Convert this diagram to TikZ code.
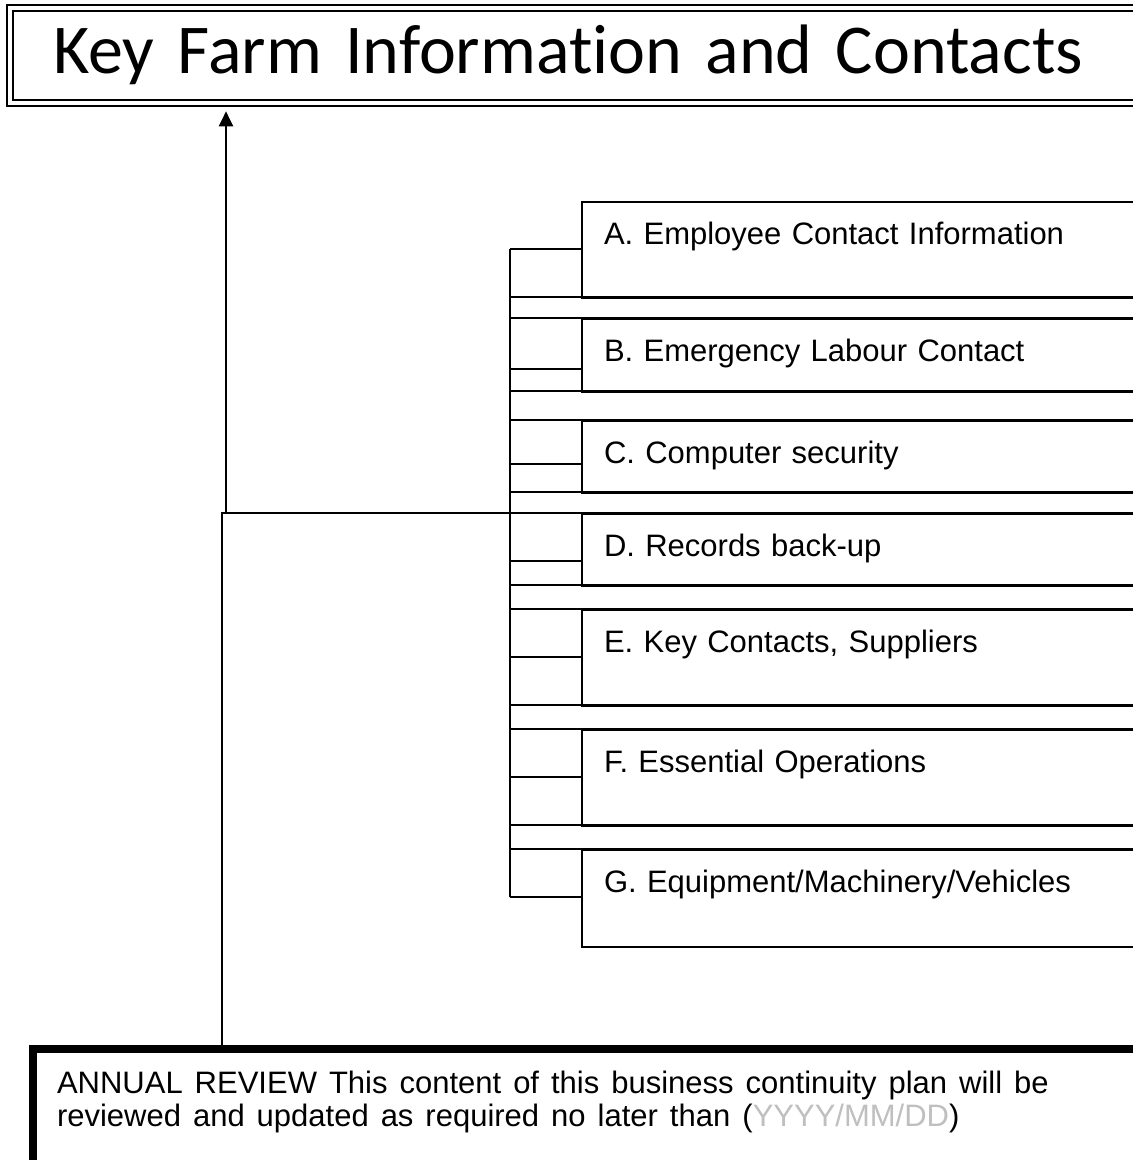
\documentclass[tikz,border=0pt]{standalone}
\usepackage{fontspec}
\usetikzlibrary{arrows.meta}
\newfontfamily\titlefont[Ligatures=NoCommon]{Carlito}
\newfontfamily\itemfont{Liberation Sans}
\definecolor{dategray}{RGB}{191,191,191}

\begin{document}
\begin{tikzpicture}[x=1pt,y=-1pt,line width=2pt,
    titlebox/.style={draw,double,double distance=3.7pt,line width=2.3pt,
      anchor=north west,inner ysep=0pt,inner xsep=43pt,text width=1150pt,
      align=left,text height=65pt,text depth=30pt,
      font=\titlefont\fontsize{70}{80}\selectfont},
    itembox/.style={draw,anchor=north west,inner ysep=0pt,inner xsep=22pt,
      text width=600pt,align=left,text height=42.5pt,
      font=\itemfont\fontsize{31}{37}\selectfont},
    reviewbox/.style={draw,line width=8pt,anchor=north west,inner ysep=0pt,
      inner xsep=24pt,text width=1057pt,align=left,text height=44pt,
      text depth=156pt,font=\itemfont\fontsize{31}{33}\selectfont}]
    \useasboundingbox (0,0) rectangle (1133,1160);
    \clip (0,0) rectangle (1133,1160); % page edge cuts the boxes on the right

    \node[titlebox] (title) at (9,7) {Key Farm Information and Contacts};

    \coordinate (brtop) at (510,248.7);
    \coordinate (brbot) at (510,897.3);
    \coordinate (join)  at (510,512.7);
    \coordinate (fork)  at (222,512.7);
    \coordinate (up)    at (226,512.7);

    % strips between the items
    \foreach \t/\b in {296.7/318,391/420,492.3/512.7,585/609,705/729,825/849.3}{
      \draw (510,\t) rectangle (1200,\b);
    }
    \draw (brtop) -- (brbot);
    \foreach \n/\t/\b/\e/\txt in {%
        itemA/200.7/296.7/248.7/{A. Employee Contact Information},
        itemB/318/391/369/{B. Emergency Labour Contact},
        itemC/420/492.3/464.3/{C. Computer security},
        itemD/512.7/585/561/{D. Records back-up},
        itemE/609/705/657/{E. Key Contacts, Suppliers},
        itemF/729/825/776.7/{F. Essential Operations},
        itemG/849.3/945.7/897.3/{G. Equipment/Machinery/Vehicles}}{%
      \pgfmathsetmacro{\lowpart}{\b-\t-42.5}
      \node[itembox,text depth=\lowpart pt] (\n) at (581,\t) {\txt};
      \draw (brtop |- 0,\e) -- (\n.west |- 0,\e);
    }

    \node[reviewbox] (review) at (29,1045) {\spaceskip=12pt\relax
      ANNUAL REVIEW This content of this business continuity plan will be\\
      reviewed and updated as required no later than ({\color{dategray}YYYY/MM/DD})};

    \draw (join) -- (fork) -- (fork |- review.north);
    \draw[-{Triangle[length=15pt,width=14pt]},shorten >=7pt] (up) -- (up |- title.south);
  \end{tikzpicture}
\end{document}
